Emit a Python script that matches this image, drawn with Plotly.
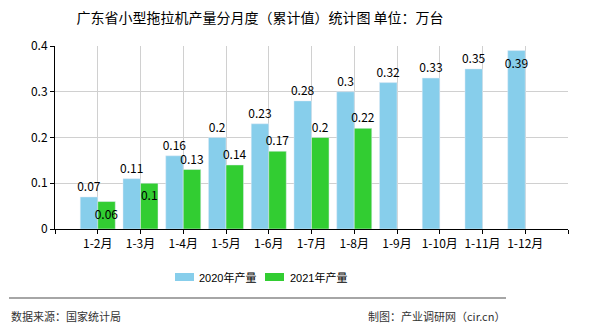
import plotly.graph_objects as go

# ---- data ----
categories = ["1-2月", "1-3月", "1-4月", "1-5月", "1-6月", "1-7月",
              "1-8月", "1-9月", "1-10月", "1-11月", "1-12月"]
values_2020 = [0.07, 0.11, 0.16, 0.2, 0.23, 0.28, 0.3, 0.32, 0.33, 0.35, 0.39]
values_2021 = [0.06, 0.1, 0.13, 0.14, 0.17, 0.2, 0.22]
series_names = ["2020年产量", "2021年产量"]
y_ticks = [0, 0.1, 0.2, 0.3, 0.4]

# ---- style ----
W, H = 590, 330
L, R, T, B = 55, 22, 46, 101
PW, PH = W - L - R, H - T - B
c2020 = "#87CEEB"
c2021 = "#32CD32"
FONT = "SimSun, Noto Sans CJK SC, sans-serif"

def px(x):
    return (x - L) / PW

def py(y):
    return (H - B - y) / PH

xs = list(range(len(categories)))

pos2020 = ["outside"] * len(values_2020)
pos2020[-1] = "inside"
pos2021 = ["outside"] * len(values_2021)
pos2021[0] = "inside"
pos2021[1] = "inside"

label_font = dict(family=FONT, size=12, color="#000")

fig = go.Figure()
fig.add_trace(go.Bar(
    x=xs, y=values_2020, name=series_names[0], marker_color=c2020,
    text=[str(v) for v in values_2020], textposition=pos2020, textangle=0,
    insidetextanchor="end", constraintext="none", cliponaxis=False,
    textfont=label_font, insidetextfont=label_font, outsidetextfont=label_font,
    showlegend=False,
))
fig.add_trace(go.Bar(
    x=xs[:len(values_2021)], y=values_2021, name=series_names[1], marker_color=c2021,
    text=[str(v) for v in values_2021], textposition=pos2021, textangle=0,
    insidetextanchor="end", constraintext="none", cliponaxis=False,
    textfont=label_font, insidetextfont=label_font, outsidetextfont=label_font,
    showlegend=False,
))

tickvals = list(range(-1, len(categories) + 1))
ticktext = [""] + categories + [""]

fig.update_layout(
    width=W, height=H,
    margin=dict(l=L, r=R, t=T, b=B),
    paper_bgcolor="white", plot_bgcolor="white",
    barmode="group", bargap=0.18, bargroupgap=0,
    font=dict(family=FONT, size=12, color="#000"),
    title=dict(text="广东省小型拖拉机产量分月度（累计值）统计图 单位：万台",
               x=260 / W, xref="container", xanchor="center",
               y=1 - 18 / H, yref="container", yanchor="middle",
               font=dict(family=FONT, size=14, color="#000")),
    xaxis=dict(range=[-1, len(categories)], tickvals=tickvals, ticktext=ticktext,
               showgrid=True, gridcolor="#d0d0d0", gridwidth=1,
               showline=True, linecolor="#000", linewidth=1,
               ticks="outside", ticklen=4, tickcolor="#000",
               zeroline=False, tickfont=dict(family=FONT, size=12, color="#000")),
    yaxis=dict(range=[0, 0.4], tickvals=y_ticks, ticktext=[str(v) for v in y_ticks],
               showgrid=True, gridcolor="#d0d0d0", gridwidth=1,
               showline=True, linecolor="#000", linewidth=1,
               ticks="outside", ticklen=4, tickcolor="#000",
               zeroline=False, tickfont=dict(family=FONT, size=12, color="#000")),
)

shapes = [
    # legend swatches
    dict(type="rect", xref="paper", yref="paper", x0=px(175), x1=px(194),
         y0=py(281), y1=py(273), fillcolor=c2020, line=dict(width=0)),
    dict(type="rect", xref="paper", yref="paper", x0=px(265), x1=px(284),
         y0=py(281), y1=py(273), fillcolor=c2021, line=dict(width=0)),
    # separator line
    dict(type="line", xref="paper", yref="paper", x0=px(9), x1=px(506),
         y0=py(298), y1=py(298), line=dict(color="#888", width=1.5)),
]
annotations = [
    dict(text=series_names[0], xref="paper", yref="paper", x=px(197), y=py(277),
         xanchor="left", yanchor="middle", showarrow=False,
         font=dict(family="Liberation Sans, Noto Sans CJK SC", size=11, color="#000")),
    dict(text=series_names[1], xref="paper", yref="paper", x=px(288), y=py(277),
         xanchor="left", yanchor="middle", showarrow=False,
         font=dict(family="Liberation Sans, Noto Sans CJK SC", size=11, color="#000")),
    dict(text="数据来源：国家统计局", xref="paper", yref="paper", x=px(9), y=py(316),
         xanchor="left", yanchor="middle", showarrow=False,
         font=dict(family=FONT, size=11, color="#333")),
    dict(text="制图：产业调研网（cir.cn）", xref="paper", yref="paper", x=px(507), y=py(316),
         xanchor="right", yanchor="middle", showarrow=False,
         font=dict(family=FONT, size=11, color="#333")),
]
fig.update_layout(shapes=shapes, annotations=annotations)

fig.write_html("out.html")
